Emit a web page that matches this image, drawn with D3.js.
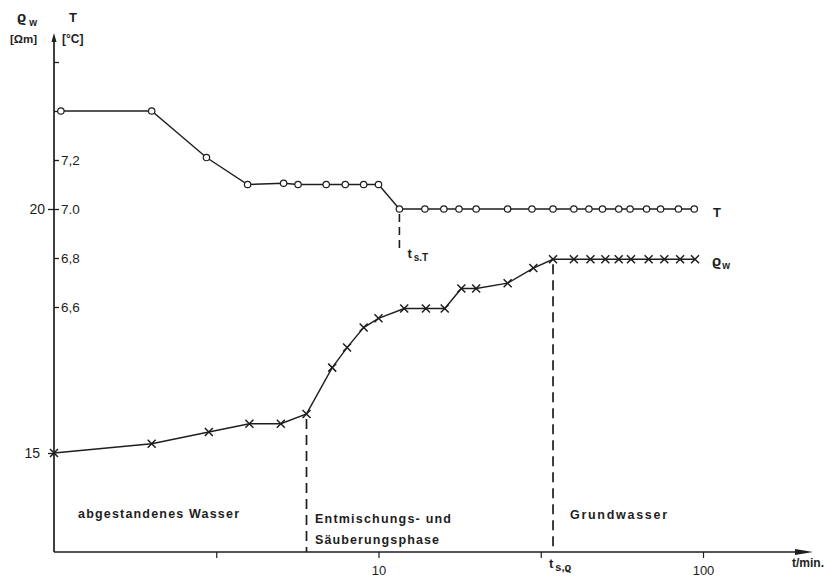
<!DOCTYPE html>
<html>
<head>
<meta charset="utf-8">
<script src="https://cdn.jsdelivr.net/npm/d3@7"></script>
<style>
  html, body { margin: 0; padding: 0; background: #fff; }
  svg { display: block; }
  text { font-family: "Liberation Sans", Arial, sans-serif; fill: #1e1e1e; }
</style>
</head>
<body>
<svg id="chart" width="838" height="581"></svg>
<script>
// Temperature of the pumped water (open circles)
const tempTimes  = [1.05, 2, 2.95, 3.95, 5.1, 5.65, 6.9, 7.9, 9, 10, 11.6, 13.9, 15.9, 17.7, 20, 25, 29.7, 34.5, 40, 44.5, 49, 55, 59.6, 67, 74, 84, 94];
const tempValues = [7.40, 7.40, 7.21, 7.10, 7.105, 7.10, 7.10, 7.10, 7.10, 7.10, 7.00, 7.00, 7.00, 7.00, 7.00, 7.00, 7.00, 7.00, 7.00, 7.00, 7.00, 7.00, 7.00, 7.00, 7.00, 7.00, 7.00];

// Specific resistivity of the water (crosses)
const resTimes  = [1, 2, 3, 4, 5, 6, 7.2, 8, 9, 10, 12, 14, 16, 18, 20, 25, 30, 34.5, 40, 45, 50, 55, 60, 68, 76, 85, 94.5];
const resValues = [15.0, 15.19, 15.43, 15.6, 15.6, 15.8, 16.75, 17.16, 17.57, 17.76, 17.96, 17.96, 17.96, 18.37, 18.37, 18.48, 18.79, 18.97, 18.97, 18.97, 18.97, 18.97, 18.97, 18.97, 18.97, 18.97, 18.97];

// Axis ticks
const timeTicks  = [Math.sqrt(10), 10, Math.pow(10, 1.5), 100];
const timeLabels = ["", "10", "", "100"];
const tempTicks  = [6.6, 6.8, 7.0, 7.2, 7.4, 7.6];
const tempLabels = ["6,6", "6,8", "7.0", "7,2", "", ""];
const resTicks   = [15, 20];
const resLabels  = ["15", "20"];

// Phase boundaries (start of each stable phase)
const phaseStarts = [6, 34.5];
const stableTempTime = 11.6;

const ink = "#1e1e1e";
const svg = d3.select("#chart");

const x = d3.scaleLog().domain([1, 220]).range([54, 54 + 324.5 * Math.log10(220)]);
const yT = d3.scaleLinear().domain([6.6, 7.2]).range([307, 160]);
const yR = d3.scaleLinear().domain([15, 20]).range([453, 209]);
const baseY = 552;
const topY = 33;
const axisX = x(1);

// Axis lines with arrow heads
svg.append("line").attr("x1", axisX).attr("x2", axisX).attr("y1", baseY).attr("y2", topY + 4)
  .attr("stroke", ink).attr("stroke-width", 1.7);
svg.append("path").attr("d", `M${axisX},${topY} l-2.5,9 l5,0 z`).attr("fill", ink);
svg.append("line").attr("x1", axisX).attr("x2", 800).attr("y1", baseY).attr("y2", baseY)
  .attr("stroke", ink).attr("stroke-width", 1.7);
svg.append("path").attr("d", `M813,${baseY} l-18,-3 l0,6 z`).attr("fill", ink);

// Time axis ticks
const xAxis = svg.append("g").attr("transform", `translate(0,${baseY})`)
  .call(d3.axisBottom(x).tickValues(timeTicks).tickSize(6).tickPadding(8)
    .tickFormat((d, i) => timeLabels[i]));
xAxis.select(".domain").remove();
xAxis.selectAll("line").attr("stroke", ink).attr("stroke-width", 1.2);
xAxis.selectAll("text").attr("font-size", 13).attr("fill", ink)
  .style("font-family", "'Liberation Sans', Arial, sans-serif");

svg.append("text").attr("x", 792).attr("y", 567).attr("font-size", 12).attr("font-weight", "bold")
  .text("t/min.");

// Temperature ticks (right side of the vertical axis)
const tAxis = svg.append("g").attr("transform", `translate(${axisX},0)`)
  .call(d3.axisRight(yT).tickValues(tempTicks).tickSize(5).tickPadding(2)
    .tickFormat((d, i) => tempLabels[i]));
tAxis.select(".domain").remove();
tAxis.selectAll("line").attr("stroke", ink).attr("stroke-width", 1.3);
tAxis.selectAll("text").attr("font-size", 13.5).attr("fill", ink)
  .style("font-family", "'Liberation Sans', Arial, sans-serif");

// Resistivity ticks (left side)
const rAxis = svg.append("g").attr("transform", `translate(${axisX},0)`)
  .call(d3.axisLeft(yR).tickValues(resTicks).tickSize(6).tickPadding(3)
    .tickFormat((d, i) => resLabels[i]));
rAxis.select(".domain").remove();
rAxis.selectAll("line").attr("stroke", ink).attr("stroke-width", 1.3);
rAxis.selectAll("text").attr("font-size", 14).attr("fill", ink)
  .style("font-family", "'Liberation Sans', Arial, sans-serif");
rAxis.selectAll(".tick").filter(d => d === 15).select("text").attr("x", -14);

// Axis titles
const titleR = svg.append("text").attr("x", 17).attr("y", 22).attr("font-size", 15).attr("font-weight", "bold");
titleR.append("tspan").text("ϱ");
titleR.append("tspan").attr("font-size", 10).attr("dx", 3).attr("dy", 4).text("w");
svg.append("text").attr("x", 10).attr("y", 43).attr("font-size", 11.5).attr("font-weight", "bold").text("[Ωm]");
svg.append("text").attr("x", 69).attr("y", 22).attr("font-size", 13).attr("font-weight", "bold").text("T");
svg.append("text").attr("x", 62).attr("y", 43).attr("font-size", 12).attr("font-weight", "bold").text("[°C]");

// Phase boundary dashed lines
const resAt = t => resValues[resTimes.indexOf(t)];
phaseStarts.forEach(t => {
  svg.append("line").attr("x1", x(t)).attr("x2", x(t))
    .attr("y1", yR(resAt(t)) + 5).attr("y2", baseY)
    .attr("stroke", ink).attr("stroke-width", 1.7).attr("stroke-dasharray", "10,6");
});
svg.append("line").attr("x1", x(stableTempTime)).attr("x2", x(stableTempTime))
  .attr("y1", yT(7.0) + 5).attr("y2", yT(6.84))
  .attr("stroke", ink).attr("stroke-width", 1.6).attr("stroke-dasharray", "8,5");

// Stabilisation time labels
const tsT = svg.append("text").attr("x", x(stableTempTime) + 8).attr("y", 258).attr("font-size", 13).attr("font-weight", "bold");
tsT.append("tspan").text("t");
tsT.append("tspan").attr("font-size", 10).attr("dx", 2).attr("dy", 3).text("s.T");
const tsR = svg.append("text").attr("x", x(phaseStarts[1]) - 4).attr("y", 568).attr("font-size", 13).attr("font-weight", "bold");
tsR.append("tspan").text("t");
tsR.append("tspan").attr("font-size", 11).attr("dx", 2).attr("dy", 3).text("s,ϱ");

// Temperature curve
const tempData = tempTimes.map((t, i) => [t, tempValues[i]]);
svg.append("path").datum(tempData)
  .attr("d", d3.line().x(d => x(d[0])).y(d => yT(d[1])))
  .attr("fill", "none").attr("stroke", ink).attr("stroke-width", 1.4);
svg.append("g").selectAll("circle").data(tempData).join("circle")
  .attr("cx", d => x(d[0])).attr("cy", d => yT(d[1])).attr("r", 3.2)
  .attr("fill", "#fff").attr("stroke", ink).attr("stroke-width", 1.2);

// Resistivity curve
const resData = resTimes.map((t, i) => [t, resValues[i]]);
svg.append("path").datum(resData)
  .attr("d", d3.line().x(d => x(d[0])).y(d => yR(d[1])))
  .attr("fill", "none").attr("stroke", ink).attr("stroke-width", 1.4);
const s = 4;
svg.append("g").selectAll("path").data(resData).join("path")
  .attr("d", d => {
    const cx = x(d[0]), cy = yR(d[1]);
    return `M${cx - s},${cy - s}L${cx + s},${cy + s}M${cx - s},${cy + s}L${cx + s},${cy - s}`;
  })
  .attr("stroke", ink).attr("stroke-width", 1.5).attr("fill", "none");

// Series labels
svg.append("text").attr("x", 713).attr("y", 217).attr("font-size", 13).attr("font-weight", "bold").text("T");
const labR = svg.append("text").attr("x", 712).attr("y", 266).attr("font-size", 15).attr("font-weight", "bold");
labR.append("tspan").text("ϱ");
labR.append("tspan").attr("font-size", 10).attr("dx", 1).attr("dy", 3).text("w");

// Phase names
const phaseText = [
  { text: "abgestandenes Wasser", x: 78, y: 518, w: 161 },
  { text: "Entmischungs- und", x: 315, y: 523, w: 136 },
  { text: "Säuberungsphase", x: 315, y: 544, w: 124 },
  { text: "Grundwasser", x: 570, y: 519, w: 97 }
];
svg.append("g").selectAll("text").data(phaseText).join("text")
  .attr("x", d => d.x).attr("y", d => d.y)
  .attr("font-size", 12.5).attr("font-weight", "bold")
  .attr("textLength", d => d.w).attr("lengthAdjust", "spacing")
  .text(d => d.text);
</script>
</body>
</html>
